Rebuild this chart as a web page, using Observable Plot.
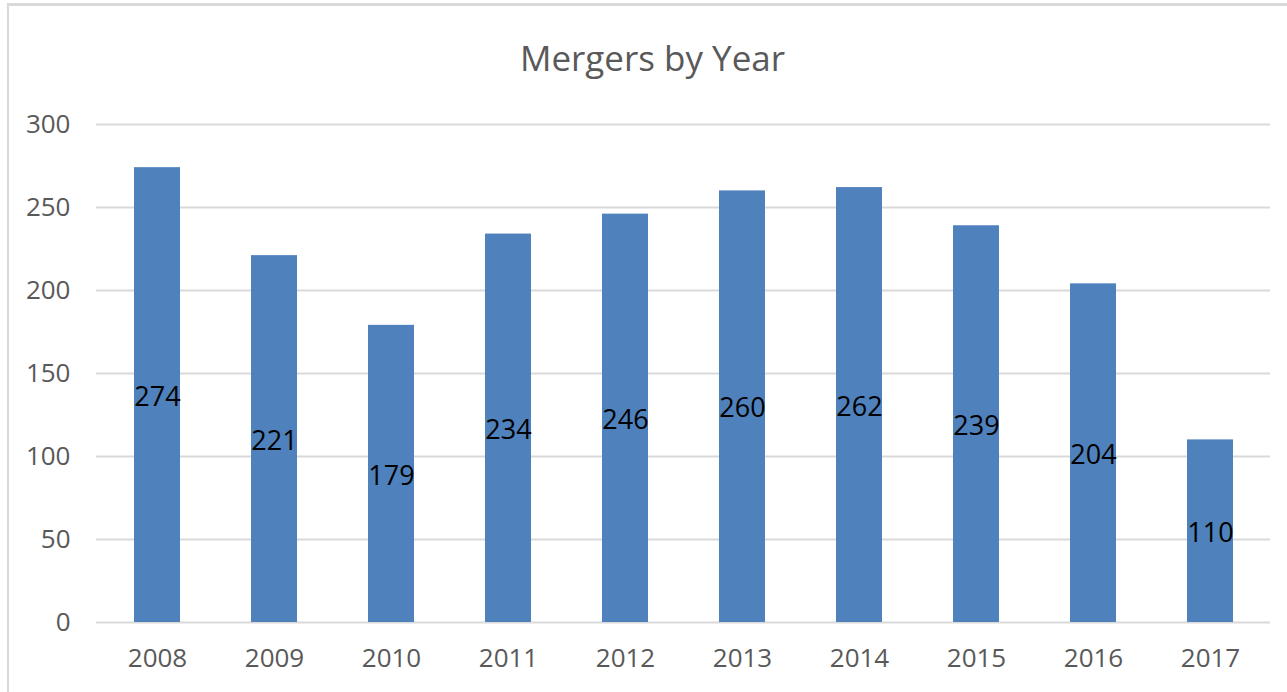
<!DOCTYPE html>
<html>
<head>
<meta charset="utf-8">
<script src="https://cdn.jsdelivr.net/npm/d3@7"></script>
<script src="https://cdn.jsdelivr.net/npm/@observablehq/plot@0.6"></script>
<style>
  html, body { margin: 0; padding: 0; background: #fff; }
  #wrap { position: relative; width: 1287px; height: 692px; overflow: hidden; background: #fff; }
  #frame { position: absolute; left: 7px; top: 3px; width: 1300px; height: 720px; border-left: 2px solid #d9d9d9; border-top: 3px solid #d9d9d9; box-sizing: border-box; }
  #title { position: absolute; left: 0; width: 1305px; top: 33px; text-align: center; font-family: "Open Sans", sans-serif; font-size: 35px; color: #595959; line-height: 50px; }
  #chart { position: absolute; left: 0; top: 90px; }
</style>
</head>
<body>
<div id="wrap">
  <div id="frame"></div>
  <div id="title">Mergers by Year</div>
  <div id="chart"></div>
</div>
<script>
const years = ["2008", "2009", "2010", "2011", "2012", "2013", "2014", "2015", "2016", "2017"];
const mergers = [274, 221, 179, 234, 246, 260, 262, 239, 204, 110];
const yTicks = [0, 50, 100, 150, 200, 250, 300];

const data = years.map((year, i) => ({year, value: mergers[i]}));

const chart = Plot.plot({
  width: 1287,
  height: 602,
  marginTop: 34,
  marginBottom: 70,
  marginLeft: 96,
  marginRight: 17,
  style: {fontFamily: "'Open Sans', sans-serif", background: "transparent"},
  x: {domain: years, paddingInner: 0.608, paddingOuter: 0.304, label: null},
  y: {domain: [0, 300], label: null},
  marks: [
    Plot.gridY(yTicks, {stroke: "#d9d9d9", strokeOpacity: 1, strokeWidth: 2}),
    Plot.barY(data, {x: "year", y: "value", fill: "#4f81bd"}),
    Plot.text(data, {x: "year", y: d => d.value / 2, dy: 2, text: d => String(d.value), fill: "#000", fontSize: 27}),
    Plot.axisX({tickSize: 0, tickPadding: 26, fontSize: 26, color: "#595959", label: null}),
    Plot.axisY(yTicks, {tickSize: 0, tickPadding: 26, fontSize: 26, color: "#595959", label: null})
  ]
});
document.getElementById("chart").appendChild(chart);
</script>
</body>
</html>
